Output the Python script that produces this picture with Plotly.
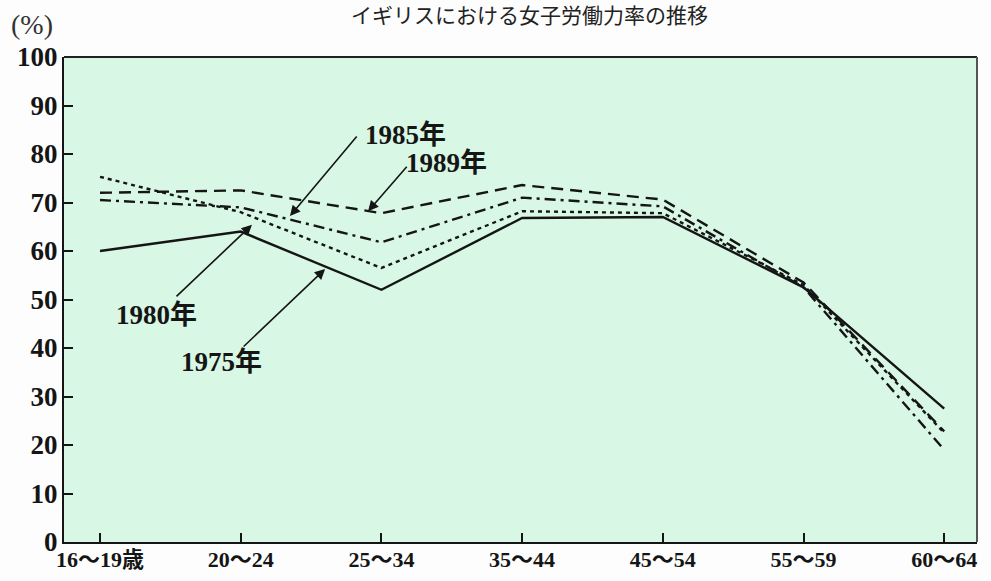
import plotly.graph_objects as go

# Age groups and female labour-force participation rates (%)
age_groups = ["16～19歳", "20～24", "25～34", "35～44", "45～54", "55～59", "60～64"]
rate_1975 = [60.0, 64.0, 52.0, 66.8, 67.0, 52.5, 27.5]
rate_1980 = [75.3, 68.0, 56.5, 68.2, 67.8, 53.0, 22.5]
rate_1985 = [70.5, 69.0, 61.8, 71.0, 69.2, 52.5, 19.0]
rate_1989 = [72.0, 72.5, 67.8, 73.6, 70.6, 53.5, 22.8]
y_ticks = [0, 10, 20, 30, 40, 50, 60, 70, 80, 90, 100]

serif = "Liberation Serif, Noto Sans CJK JP, serif"
ink = "#151515"
xs = list(range(len(age_groups)))

series = [
    ("1975年", rate_1975, "solid"),
    ("1980年", rate_1980, "4px,4px"),
    ("1985年", rate_1985, "11px,5px,3px,5px"),
    ("1989年", rate_1989, "12px,7px"),
]

fig = go.Figure()
for name, vals, dash in series:
    fig.add_trace(go.Scatter(
        x=xs, y=vals, mode="lines", name=name,
        line=dict(color=ink, width=2.4, dash=dash),
        showlegend=False, hoverinfo="skip",
    ))

# Leader arrows: (label, arrow tip x, tip y, tail dx px, tail dy px, label x, label y)
callouts = [
    ("1975年", 1.60, 56.3, -83, 79, 0.86, 37.1),
    ("1980年", 1.08, 65.4, -77, 73, 0.40, 46.8),
    ("1985年", 1.35, 67.2, 68, -81, 2.17, 84.0),
    ("1989年", 1.905, 68.2, 40, -46, 2.46, 78.2),
]
for label, tx, ty, dx, dy, lx, ly in callouts:
    fig.add_annotation(
        x=tx, y=ty, xref="x", yref="y", ax=dx, ay=dy,
        text="", showarrow=True, arrowhead=2, arrowsize=1.3,
        arrowwidth=1.6, arrowcolor=ink,
    )
    fig.add_annotation(
        x=lx, y=ly, xref="x", yref="y", text=label, showarrow=False,
        font=dict(family=serif, size=27, color=ink, weight="bold"),
    )

# Title and unit label
fig.add_annotation(
    x=0.51, y=1.0, xref="paper", yref="paper", yshift=43,
    text="イギリスにおける女子労働力率の推移",
    showarrow=False, font=dict(family="Noto Sans CJK JP", size=21, color="#222"),
    yanchor="middle",
)
fig.add_annotation(
    x=-0.035, y=1.066, xref="paper", yref="paper", text="(%)", showarrow=False,
    font=dict(family=serif, size=28, color="#333"), xanchor="center", yanchor="middle",
)

# Thin frame on the top and right sides
fig.add_shape(type="line", xref="paper", yref="paper", x0=0, x1=1, y0=1, y1=1,
              line=dict(color="#222", width=1.8))
fig.add_shape(type="line", xref="paper", yref="paper", x0=1, x1=1, y0=0, y1=1,
              line=dict(color="#555", width=2))

fig.update_xaxes(
    range=[-0.256, 6.233], tickmode="array", tickvals=xs, ticktext=age_groups,
    showgrid=False, zeroline=False, showline=True, linecolor=ink, linewidth=2.2,
    ticks="inside", ticklen=9, tickwidth=1.6, tickcolor=ink, automargin=False,
    tickfont=dict(family=serif, size=22, color=ink, weight="bold"),
    ticklabelstandoff=-4,
)
fig.update_yaxes(
    range=[0, 100], tickmode="array", tickvals=y_ticks,
    showgrid=False, zeroline=False, showline=True, linecolor=ink, linewidth=2.2,
    ticks="inside", ticklen=9, tickwidth=1.6, tickcolor=ink, automargin=False,
    tickfont=dict(family=serif, size=27, color=ink, weight="bold"),
    ticklabelstandoff=-1,
)

fig.update_layout(
    width=991, height=581,
    margin=dict(l=64, r=14, t=57, b=39),
    plot_bgcolor="#d8f7e4",
    paper_bgcolor="#fdfdfd",
)

fig.write_html("out.html")
